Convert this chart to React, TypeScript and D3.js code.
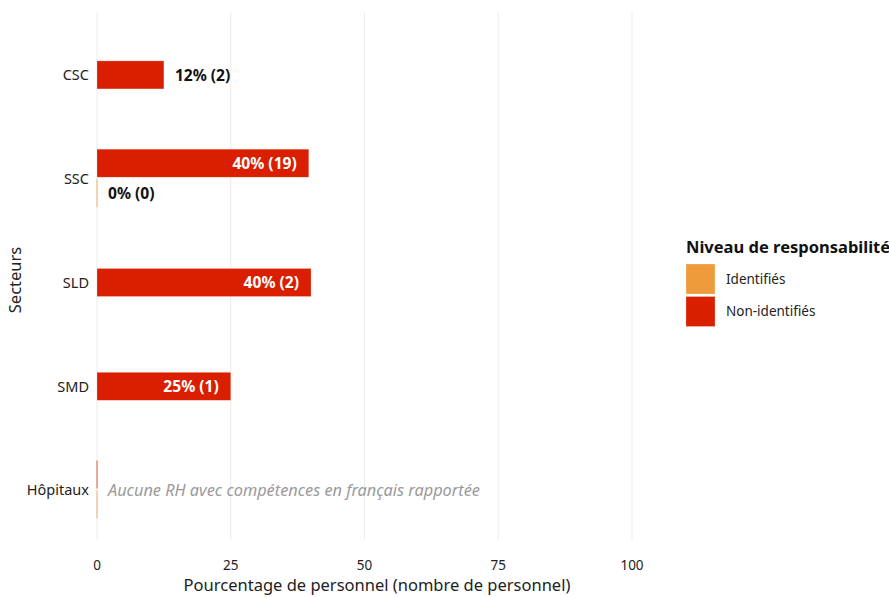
import React from "react";
import * as d3 from "d3";

const sectors = ["CSC", "SSC", "SLD", "SMD", "Hôpitaux"];
const seriesNames = ["Identifiés", "Non-identifiés"];
const seriesColors = ["#EE9B3C", "#DA1E00"];
// counts per series (null = no bar), and total staff per sector
const identifiedCounts: (number | null)[] = [null, 0, null, null, 0];
const nonIdentifiedCounts: (number | null)[] = [2, 19, 2, 1, 0];
const totals = [16, 48, 5, 4, 0];
const xTicks = [0, 25, 50, 75, 100];
const noteSector = "Hôpitaux";
const noteText = "Aucune RH avec compétences en français rapportée";

const W = 889;
const H = 597;
const FONT = "'Noto Sans', sans-serif";

function roundHalfEven(v: number) {
  const f = Math.floor(v);
  const d = v - f;
  if (Math.abs(d - 0.5) < 1e-9) return f % 2 === 0 ? f : f + 1;
  return Math.round(v);
}

export default function App() {
  const x = d3.scaleLinear().domain([0, 100]).range([97, 632]);
  const y = d3.scaleBand().domain(sectors).range([23, 542]).paddingInner(0);
  const gridTop = 12;
  const gridBottom = 540;
  const barH = 28;

  const bars: any[] = [];
  const labels: any[] = [];
  sectors.forEach((s, i) => {
    const c = (y(s) as number) + y.bandwidth() / 2;
    const present: { series: number; count: number }[] = [];
    if (nonIdentifiedCounts[i] !== null) present.push({ series: 1, count: nonIdentifiedCounts[i] as number });
    if (identifiedCounts[i] !== null) present.push({ series: 0, count: identifiedCounts[i] as number });
    present.forEach((p, k) => {
      let top: number;
      if (present.length === 1) top = c - barH / 2;
      else top = k === 0 ? c - barH - 1.5 : c + 0.5;
      const pct = totals[i] > 0 ? (p.count / totals[i]) * 100 : 0;
      const x1 = x(pct);
      const color = seriesColors[p.series];
      if (pct > 0) {
        bars.push(
          <rect key={`b${i}-${k}`} x={x(0)} y={top} width={x1 - x(0)} height={barH}
            fill={color} stroke="#ffffff" strokeOpacity={0.35} strokeWidth={0.6} />
        );
      } else {
        bars.push(
          <line key={`b${i}-${k}`} x1={x(0)} x2={x(0)} y1={top} y2={top + barH}
            stroke={color} strokeOpacity={0.6} strokeWidth={1.2} />
        );
      }
      if (s !== noteSector) {
        const txt = `${roundHalfEven(pct)}% (${p.count})`;
        const inside = pct >= 20;
        labels.push(
          <text key={`l${i}-${k}`} x={inside ? x1 - 12 : x1 + 11} y={top + barH / 2}
            dy="0.36em" textAnchor={inside ? "end" : "start"}
            fontWeight={700} fontSize={15.6} fill={inside ? "#ffffff" : "#111111"}>
            {txt}
          </text>
        );
      }
    });
  });

  const noteY = (y(noteSector) as number) + y.bandwidth() / 2;

  return (
    <svg width={W} height={H} style={{ position: "absolute", left: 0, top: 0, background: "#fff" }}
      fontFamily={FONT}>
      <rect width={W} height={H} fill="#ffffff" />
      {xTicks.map((t) => (
        <line key={`g${t}`} x1={x(t)} x2={x(t)} y1={gridTop} y2={gridBottom}
          stroke="#EBEBEB" strokeWidth={1} />
      ))}
      {bars}
      {labels}
      <text x={x(0) + 11} y={noteY} dy="0.36em" fontStyle="italic" fontSize={16.3} fill="#9A9A9A">
        {noteText}
      </text>
      {sectors.map((s) => (
        <text key={`yt${s}`} x={89} y={(y(s) as number) + y.bandwidth() / 2} dy="0.36em"
          textAnchor="end" fontSize={14.5} fill="#222">
          {s}
        </text>
      ))}
      {xTicks.map((t) => (
        <text key={`xt${t}`} x={x(t)} y={565} dy="0.36em" textAnchor="middle" fontSize={13.5} fill="#222">
          {t}
        </text>
      ))}
      <text x={377} y={585} dy="0.36em" textAnchor="middle" fontSize={16.5} fill="#222">
        Pourcentage de personnel (nombre de personnel)
      </text>
      <text transform={`translate(15,${(gridTop + gridBottom) / 2 + 4}) rotate(-90)`} dy="0.36em"
        textAnchor="middle" fontSize={16.5} fill="#222">
        Secteurs
      </text>
      <text x={686} y={247} dy="0.36em" fontWeight={700} fontSize={16.5} fill="#111">
        Niveau de responsabilité
      </text>
      {seriesNames.map((n, i) => (
        <g key={`lg${n}`}>
          <rect x={686} y={264 + i * 32.5} width={29} height={30} fill={seriesColors[i]}
            stroke="#ffffff" strokeOpacity={0.4} strokeWidth={0.6} />
          <text x={726} y={279 + i * 32.5} dy="0.36em" fontSize={13.5} fill="#222">{n}</text>
        </g>
      ))}
    </svg>
  );
}
